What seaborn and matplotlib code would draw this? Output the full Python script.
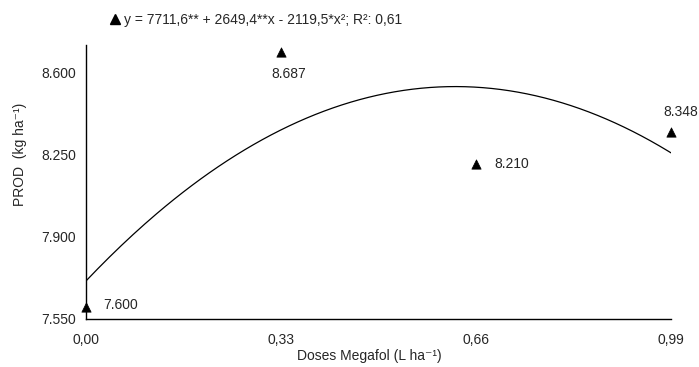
import numpy as np
import pandas as pd
import matplotlib
matplotlib.use('Agg')
import matplotlib.pyplot as plt
import seaborn as sns

# Data
doses = [0.00, 0.33, 0.66, 0.99]
prod = [7600, 8687, 8210, 8348]
point_labels = ['7.600', '8.687', '8.210', '8.348']

# Fitted quadratic from the equation shown in the chart
coef = [7711.6, 2649.4, -2119.5]
equation = 'y = 7711,6** + 2649,4**x - 2119,5*x²; R²: 0,61'

x_ticks = [0.00, 0.33, 0.66, 0.99]
x_tick_labels = ['0,00', '0,33', '0,66', '0,99']
y_ticks = [7550, 7900, 8250, 8600]
y_tick_labels = ['7.550', '7.900', '8.250', '8.600']

sns.set_style('white')
plt.rcParams['font.family'] = ['Liberation Sans', 'DejaVu Sans']
plt.rcParams['font.size'] = 10

fig = plt.figure(figsize=(6.99, 3.67), dpi=100)
ax = fig.add_axes([0.123, 0.131, 0.837, 0.746])

# Regression curve
xs = np.linspace(0, 0.99, 200)
curve = pd.DataFrame({'x': xs, 'y': coef[0] + coef[1] * xs + coef[2] * xs ** 2})
sns.lineplot(data=curve, x='x', y='y', color='black', linewidth=0.9, ax=ax)

# Observed points
pts = pd.DataFrame({'dose': doses, 'prod': prod})
sns.scatterplot(data=pts, x='dose', y='prod', marker='^', color='black',
                s=45, edgecolor='black', linewidth=0.5, ax=ax, clip_on=False, zorder=5)

# Point labels (offsets in pixels)
offsets = [(17, 2, 'left', 'center'), (8, -22, 'center', 'center'),
           (18, 0, 'left', 'center'), (10, 20, 'center', 'center')]
for x, y, lab, (dx, dy, ha, va) in zip(doses, prod, point_labels, offsets):
    ax.annotate(lab, (x, y), xytext=(dx, dy), textcoords='offset pixels',
                ha=ha, va=va, fontsize=10)

ax.set_xlim(0, 0.99)
ax.set_ylim(7550, 8716)
ax.set_xticks(x_ticks)
ax.set_xticklabels(x_tick_labels)
ax.set_yticks(y_ticks)
ax.set_yticklabels(y_tick_labels)
ax.tick_params(axis='x', length=0, pad=10)
ax.tick_params(axis='y', length=0, pad=7)

for side in ['top', 'right']:
    ax.spines[side].set_visible(False)
for side in ['left', 'bottom']:
    ax.spines[side].set_color('black')
    ax.spines[side].set_linewidth(1.0)

ax.set_xlabel('Doses Megafol (L ha⁻¹)', fontsize=10)
ax.set_ylabel('PROD  (kg ha⁻¹)', fontsize=10)
ax.xaxis.set_label_coords(0.485, -0.11)
ax.yaxis.set_label_coords(-0.1, 0.6)

# Equation legend at top
fig.add_artist(plt.Line2D([115 / 699], [1 - 19 / 367], marker='^', color='black',
                          markersize=7, transform=fig.transFigure))
fig.text(124 / 699, 1 - 20 / 367, equation, fontsize=10, va='center', ha='left')

fig.savefig('out.png', dpi=100)
